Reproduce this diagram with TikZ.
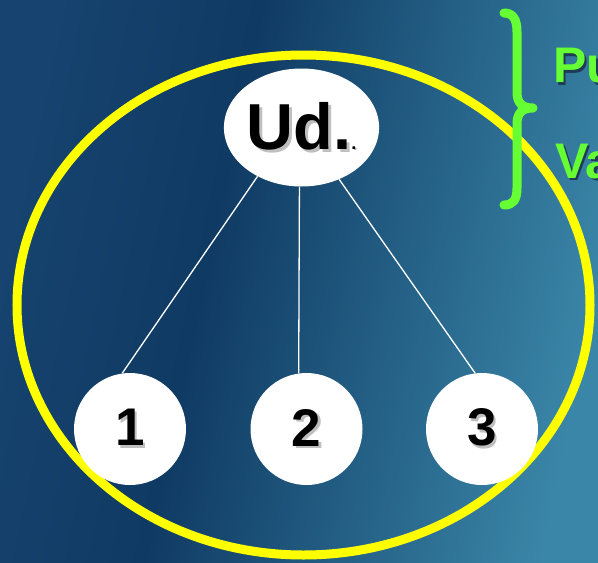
\documentclass[tikz,border=0pt]{standalone}
\usepackage{fontspec}
\setmainfont{Liberation Sans}
\usetikzlibrary{shapes.geometric}
\definecolor{bgA}{HTML}{16436F}
\definecolor{bgB}{HTML}{0F3A63}
\definecolor{bgC}{HTML}{3A86A8}
\definecolor{ylw}{HTML}{FFFF00}
\definecolor{grn}{HTML}{66FF33}
\definecolor{gshadow}{HTML}{1E3B55}
\pgfdeclarehorizontalshading{bgshade}{100bp}{color(0bp)=(bgA); color(25bp)=(bgA); color(42bp)=(bgB); color(75bp)=(bgC); color(100bp)=(bgC)}
\newcommand\shadowed[3]{\leavevmode\rlap{\hspace*{#2}\raisebox{-#2}{\textcolor{#1}{#3}}}#3}
\tikzset{
  bub/.style={circle, fill=white, minimum size=112pt, inner sep=0pt, font=\fontsize{53}{53}\selectfont\bfseries},
  topbub/.style={ellipse, fill=white, minimum width=134pt, minimum height=118pt, inner sep=0pt, font=\fontsize{65}{65}\selectfont\bfseries},
  link/.style={white, line width=1.3pt},
  side/.style={anchor=base west, text=grn, inner sep=0pt, font=\fontsize{50}{50}\selectfont\bfseries},
  ring/.style={ylw, line width=9pt},
  brace/.style={grn, line width=9pt, line cap=round, line join=round}
}
\begin{document}
\begin{tikzpicture}[x=1pt,y=-1pt]
\clip (0,0) rectangle (598,563);
\shade[shading=bgshade, shading angle=-12] (0,0) rectangle (598,563);
\draw[ring] (303.5,305) ellipse [x radius=286.5, y radius=250];
\node[topbub] (ud) at (301.5,127.5) {\shadowed{black!25}{3pt}{Ud.}{\fontsize{18}{18}\selectfont\shadowed{black!30}{1.5pt}{.}}};
\node[bub] (c1) at (130,429) {\shadowed{black!25}{2.5pt}{1}};
\node[bub] (c2) at (306.5,429) {\shadowed{black!25}{2.5pt}{2}};
\node[bub] (c3) at (482,429) {\shadowed{black!25}{2.5pt}{3}};
\draw[link] (ud.228) -- (c1.98);
\draw[link] (ud.268) -- (c2.98);
\draw[link] (ud.306) -- (c3.97);
\draw[brace] (504,13) .. controls (513,13) and (517,19) .. (517,32) -- (517,92) .. controls (517,103) and (522,108) .. (533,108) .. controls (522,108) and (517,113) .. (517,124) -- (517,188) .. controls (517,200) and (513,205) .. (504,205);
\node[side] (pu) at (553,82.6) {\shadowed{gshadow}{2.5pt}{Pu}};
\node[side] (va) at (555,178) {\shadowed{gshadow}{2.5pt}{Va}};
\end{tikzpicture}
\end{document}
